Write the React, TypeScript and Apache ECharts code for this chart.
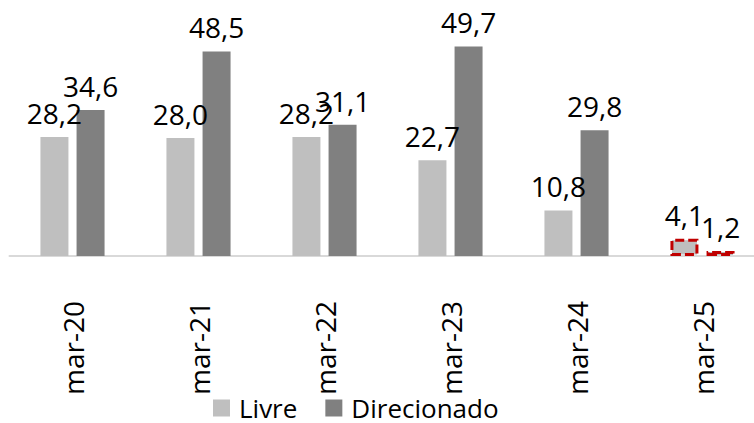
import React, { useEffect, useRef } from "react";
import * as echarts from "echarts";

const categories = ["mar-20", "mar-21", "mar-22", "mar-23", "mar-24", "mar-25"];
const livre = [28.2, 28.0, 28.2, 22.7, 10.8, 4.1];
const direcionado = [34.6, 48.5, 31.1, 49.7, 29.8, 1.2];
const highlighted = [false, false, false, false, false, true];

const FONT = "'Open Sans', sans-serif";

const fmt = (v: number) => v.toFixed(1).replace(".", ",");

export default function App() {
  const ref = useRef<HTMLDivElement>(null);
  useEffect(() => {
    document.body.style.margin = "0";
    const chart = echarts.init(ref.current!, null, { renderer: "svg" });
    const mk = (vals: number[]) =>
      vals.map((v, i) =>
        highlighted[i]
          ? {
              value: v,
              itemStyle: {
                borderColor: "#c00000",
                borderWidth: 3,
                borderType: [9, 4],
              },
            }
          : v
      );
    const label = {
      show: true,
      position: "top",
      distance: 10,
      fontSize: 28,
      fontFamily: FONT,
      color: "#000",
      formatter: (p: any) => fmt(p.value),
    };
    chart.setOption({
      animation: false,
      textStyle: { fontFamily: FONT },
      grid: {
        left: 9.5,
        width: 756,
        top: 3,
        bottom: 167,
        containLabel: false,
        outerBoundsMode: "none",
      },
      legend: {
        data: ["Livre", "Direcionado"],
        left: 208,
        top: 390,
        icon: "rect",
        itemWidth: 17,
        itemHeight: 17,
        itemGap: 28,
        textStyle: {
          fontSize: 26,
          lineHeight: 26,
          fontFamily: FONT,
          color: "#000",
          padding: [0, 0, 0, 4],
        },
      },
      xAxis: {
        type: "category",
        data: categories,
        axisLine: { lineStyle: { color: "#d9d9d9", width: 2 } },
        axisTick: { show: false },
        axisLabel: {
          rotate: 90,
          margin: 45,
          fontSize: 28,
          fontFamily: FONT,
          color: "#000",
        },
      },
      yAxis: {
        type: "value",
        min: 0,
        max: 60,
        show: false,
        splitLine: { show: false },
      },
      series: [
        {
          name: "Livre",
          type: "bar",
          data: mk(livre),
          barWidth: 28,
          barGap: "29%",
          itemStyle: { color: "#bfbfbf" },
          label,
        },
        {
          name: "Direcionado",
          type: "bar",
          data: mk(direcionado),
          barWidth: 28,
          itemStyle: { color: "#808080" },
          label,
        },
      ],
    });
    return () => chart.dispose();
  }, []);
  return <div ref={ref} style={{ width: 754, height: 423 }} />;
}
